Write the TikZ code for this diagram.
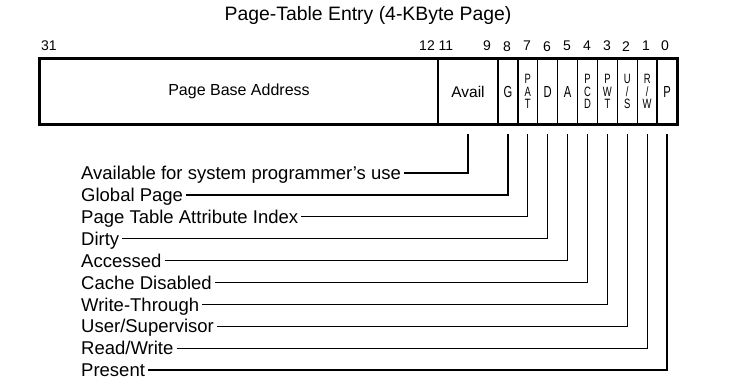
\documentclass[tikz,border=0pt]{standalone}
\usepackage{fontspec}
\setmainfont{Liberation Sans}
\newfontfamily\narrowsans[FakeStretch=0.7]{Liberation Sans}
\begin{document}
\begin{tikzpicture}[x=1pt,y=-1pt,
  field/.style={draw, line width=1.3pt, minimum height=65pt, inner sep=0pt, anchor=center},
  bitfield/.style={field, minimum width=19.89pt, align=center,
    font=\narrowsans\fontsize{16}{16}\selectfont},
  stacked/.style={bitfield, font=\narrowsans\fontsize{13.5}{12.6}\selectfont},
  bitnum/.style={inner sep=0pt, font=\fontsize{14}{14}\selectfont},
  flag/.style={anchor=west, inner xsep=3pt, inner ysep=0pt,
    font=\fontsize{18.5}{18.5}\selectfont, text height=13.2pt, text depth=0pt},
  lead/.style={line width=1.3pt}
]
\useasboundingbox (0,0) rectangle (755,386);

% title
\node[font=\fontsize{19.4}{19.4}\selectfont] (title) at (368,15) {Page-Table Entry (4-KByte Page)};

% fields of the entry
\node[field, minimum width=398pt, font=\fontsize{16}{16}\selectfont] (pba) at (239,91.5) {Page Base Address};
\node[field, minimum width=60pt, font=\fontsize{15.5}{15.5}\selectfont] (avail) at (468,91.5) {Avail};
\node[bitfield] (g)   at (507.95,91.5) {G};
\node[stacked]  (pat) at (527.84,91.5) {P\\A\\T};
\node[bitfield] (d)   at (547.73,91.5) {D};
\node[bitfield] (a)   at (567.62,91.5) {A};
\node[stacked]  (pcd) at (587.51,91.5) {P\\C\\D};
\node[stacked]  (pwt) at (607.40,91.5) {P\\W\\T};
\node[stacked]  (us)  at (627.29,91.5) {U\\/\\S};
\node[stacked]  (rw)  at (647.18,91.5) {R\\/\\W};
\node[bitfield] (p)   at (667.07,91.5) {P};
\draw[line width=2pt] (pba.north west) rectangle (p.south east);

% bit positions
\node[bitnum] (n31) at (49,46) {31};
\node[bitnum] (n12) at (427,46) {12};
\node[bitnum] (n11) at (446,46) {11};
\node[bitnum] (n9)  at (487,46) {9};
\node[bitnum] (n8)  at (507,47) {8};
\node[bitnum] (n7)  at (527,46) {7};
\node[bitnum] (n6)  at (547,47) {6};
\node[bitnum] (n5)  at (567,46) {5};
\node[bitnum] (n4)  at (587,46) {4};
\node[bitnum] (n3)  at (607,46) {3};
\node[bitnum] (n2)  at (626,47) {2};
\node[bitnum] (n1)  at (646,46) {1};
\node[bitnum] (n0)  at (665,46) {0};

% leader start points just below the fields
\foreach \f in {avail,g,pat,d,a,pcd,pwt,us,rw,p}
  \coordinate (t-\f) at ([yshift=-9pt]\f.south);

% flag descriptions
\node[flag] (l-avail) at (78,173.0) {Available for system programmer's use};
\node[flag] (l-g)     at (78,194.9) {Global Page};
\node[flag] (l-pat)   at (78,216.8) {Page Table Attribute Index};
\node[flag] (l-d)     at (78,238.7) {Dirty};
\node[flag] (l-a)     at (78,260.6) {Accessed};
\node[flag] (l-pcd)   at (78,282.5) {Cache Disabled};
\node[flag] (l-pwt)   at (78,304.4) {Write-Through};
\node[flag] (l-us)    at (78,326.3) {User/Supervisor};
\node[flag] (l-rw)    at (78,348.2) {Read/Write};
\node[flag] (l-p)     at (78,370.1) {Present};

% leaders
\foreach \f in {avail,g,pat,d,a,pcd,pwt,us,rw,p}
  \draw[lead] (l-\f.east) -| (t-\f);
\end{tikzpicture}
\end{document}
